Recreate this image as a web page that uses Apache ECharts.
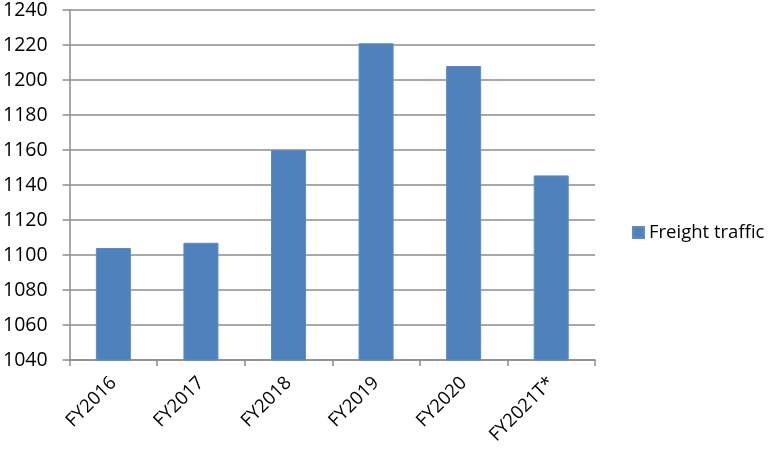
<!DOCTYPE html>
<html>
  <head>
    <meta charset="utf-8">
    <title>Freight traffic</title>
    <script type="text/javascript" src="https://cdn.jsdelivr.net/npm/echarts@6/dist/echarts.min.js"></script>
    <style>
      html, body { margin: 0; padding: 0; background: #fff; }
    </style>
  </head>
  <body>
    <div id="main" style="width: 775px;height:453px;"></div>
    <script type="text/javascript">
    // data
    var years = ['FY2016', 'FY2017', 'FY2018', 'FY2019', 'FY2020', 'FY2021T*'];
    var freight = [1104, 1107, 1160, 1221, 1208, 1145.5];
    var seriesName = 'Freight traffic';

    var font = '"Open Sans", "Liberation Sans", sans-serif';
    var grey = '#8c8c8c';

    var myChart = echarts.init(document.getElementById('main'));
    var option = {
        animation: false,
        grid: { left: 67, top: 10, right: 180, bottom: 93, containLabel: false },
        legend: {
            orient: 'vertical',
            left: 627,
            top: 218,
            itemWidth: 11,
            itemHeight: 11,
            icon: 'rect',
            data: [seriesName],
            textStyle: { fontFamily: font, fontSize: 18.5, color: '#000' }
        },
        xAxis: {
            type: 'category',
            data: years,
            boundaryGap: true,
            axisLine: { lineStyle: { color: grey, width: 1.5 } },
            axisTick: { show: true, length: 6, alignWithLabel: false, lineStyle: { color: grey, width: 1.5 } },
            axisLabel: {
                rotate: 45,
                margin: 20,
                interval: 0,
                fontFamily: font,
                fontSize: 18.5,
                color: '#000'
            }
        },
        yAxis: {
            type: 'value',
            min: 1040,
            max: 1240,
            interval: 20,
            axisLine: { show: true, lineStyle: { color: grey, width: 1.5 } },
            axisTick: { show: true, length: 7, lineStyle: { color: grey, width: 1.5 } },
            splitLine: { lineStyle: { color: grey, width: 1.5 } },
            axisLabel: {
                margin: 22,
                fontFamily: font,
                fontSize: 19.5,
                color: '#000',
                formatter: function (v) { return String(v); }
            }
        },
        series: [{
            name: seriesName,
            type: 'bar',
            data: freight,
            barWidth: '40%',
            itemStyle: { color: '#4f81bd', borderColor: '#5b8cc8', borderWidth: 1 }
        }]
    };
    myChart.setOption(option);
    </script>
  </body>
</html>
